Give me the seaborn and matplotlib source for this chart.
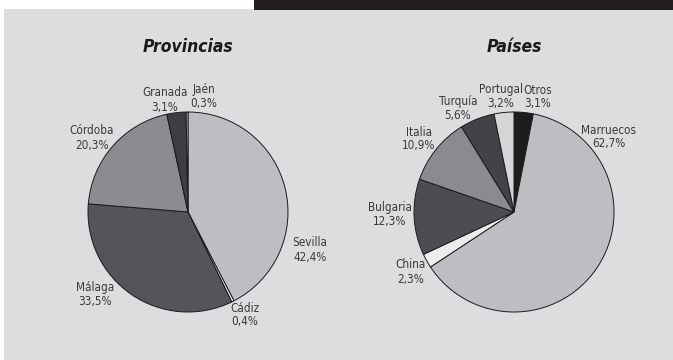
import matplotlib
matplotlib.use("Agg")
import matplotlib.pyplot as plt
import seaborn as sns
from matplotlib.patches import Rectangle

# Distribution by province
prov_names = ["Sevilla", "Cádiz", "Málaga", "Córdoba", "Granada", "Jaén"]
prov_values = [42.4, 0.4, 33.5, 20.3, 3.1, 0.3]
prov_labels = ["42,4%", "0,4%", "33,5%", "20,3%", "3,1%", "0,3%"]

# Distribution by country of origin
pais_names = ["Otros", "Marruecos", "China", "Bulgaria", "Italia", "Turquía", "Portugal"]
pais_values = [3.1, 62.7, 2.3, 12.3, 10.9, 5.6, 3.2]
pais_labels = ["3,1%", "62,7%", "2,3%", "12,3%", "10,9%", "5,6%", "3,2%"]

sns.set_theme(style="white")
plt.rcParams["font.family"] = ["DejaVu Sans"]
plt.rcParams["font.stretch"] = "condensed"

prov_colors = ["#bdbec1", "#f2f2f2", "#545558", "#8b8c8f", "#3d3e41", "#c9cacc"]
pais_colors = ["#1f1c1d", "#bdbec1", "#ececec", "#4c4d50", "#8a8b8e", "#424346", "#d5d6d8"]

# label anchor points, in units of the pie radius
prov_pos = [(1.22, -0.38), (0.57, -1.03), (-0.93, -0.82), (-0.96, 0.74),
            (-0.23, 1.12), (0.16, 1.15)]
pais_pos = [(0.24, 1.15), (0.95, 0.75), (-1.03, -0.60), (-1.24, -0.02),
            (-0.95, 0.73), (-0.56, 1.03), (-0.13, 1.15)]

W, H = 673, 360
fig = plt.figure(figsize=(W / 100, H / 100), dpi=100)
fig.patch.set_facecolor("white")

# grey panel and dark header band, kept behind the pies
fig.patches.append(Rectangle((4 / W, 0), 1, (H - 9) / H, transform=fig.transFigure,
                             facecolor="#dcdddf", edgecolor="none", zorder=-10))
fig.patches.append(Rectangle((254 / W, (H - 10) / H), 1, 1, transform=fig.transFigure,
                             facecolor="#231f20", edgecolor="none", zorder=-10))

half = 140  # pixels from pie centre to axes edge (radius = 100 px)


def draw_pie(cx, cy, values, colors, names, labels, pos, title):
    ax = fig.add_axes([(cx - half) / W, (H - cy - half) / H, 2 * half / W, 2 * half / H])
    ax.set_facecolor("none")
    ax.set_zorder(5)
    ax.pie(values, colors=colors, startangle=90, counterclock=False, radius=1.0,
           wedgeprops=dict(edgecolor="#1a1a1a", linewidth=0.7))
    ax.set_xlim(-1.4, 1.4)
    ax.set_ylim(-1.4, 1.4)
    ax.set_aspect("equal")
    ax.axis("off")
    for n, l, (x, y) in zip(names, labels, pos):
        ax.text(x, y, f"{n}\n{l}", ha="center", va="center", fontsize=8.4,
                color="#3a3a3a", linespacing=1.1)
    fig.text(cx / W, 1 - 47 / H, title, ha="center", va="center", fontsize=12.5,
             fontweight="bold", fontstyle="oblique", color="#1a1a1a")


draw_pie(188, 212, prov_values, prov_colors, prov_names, prov_labels, prov_pos, "Provincias")
draw_pie(514, 212, pais_values, pais_colors, pais_names, pais_labels, pais_pos, "Países")

fig.savefig("out.png", dpi=100, facecolor=fig.get_facecolor())
